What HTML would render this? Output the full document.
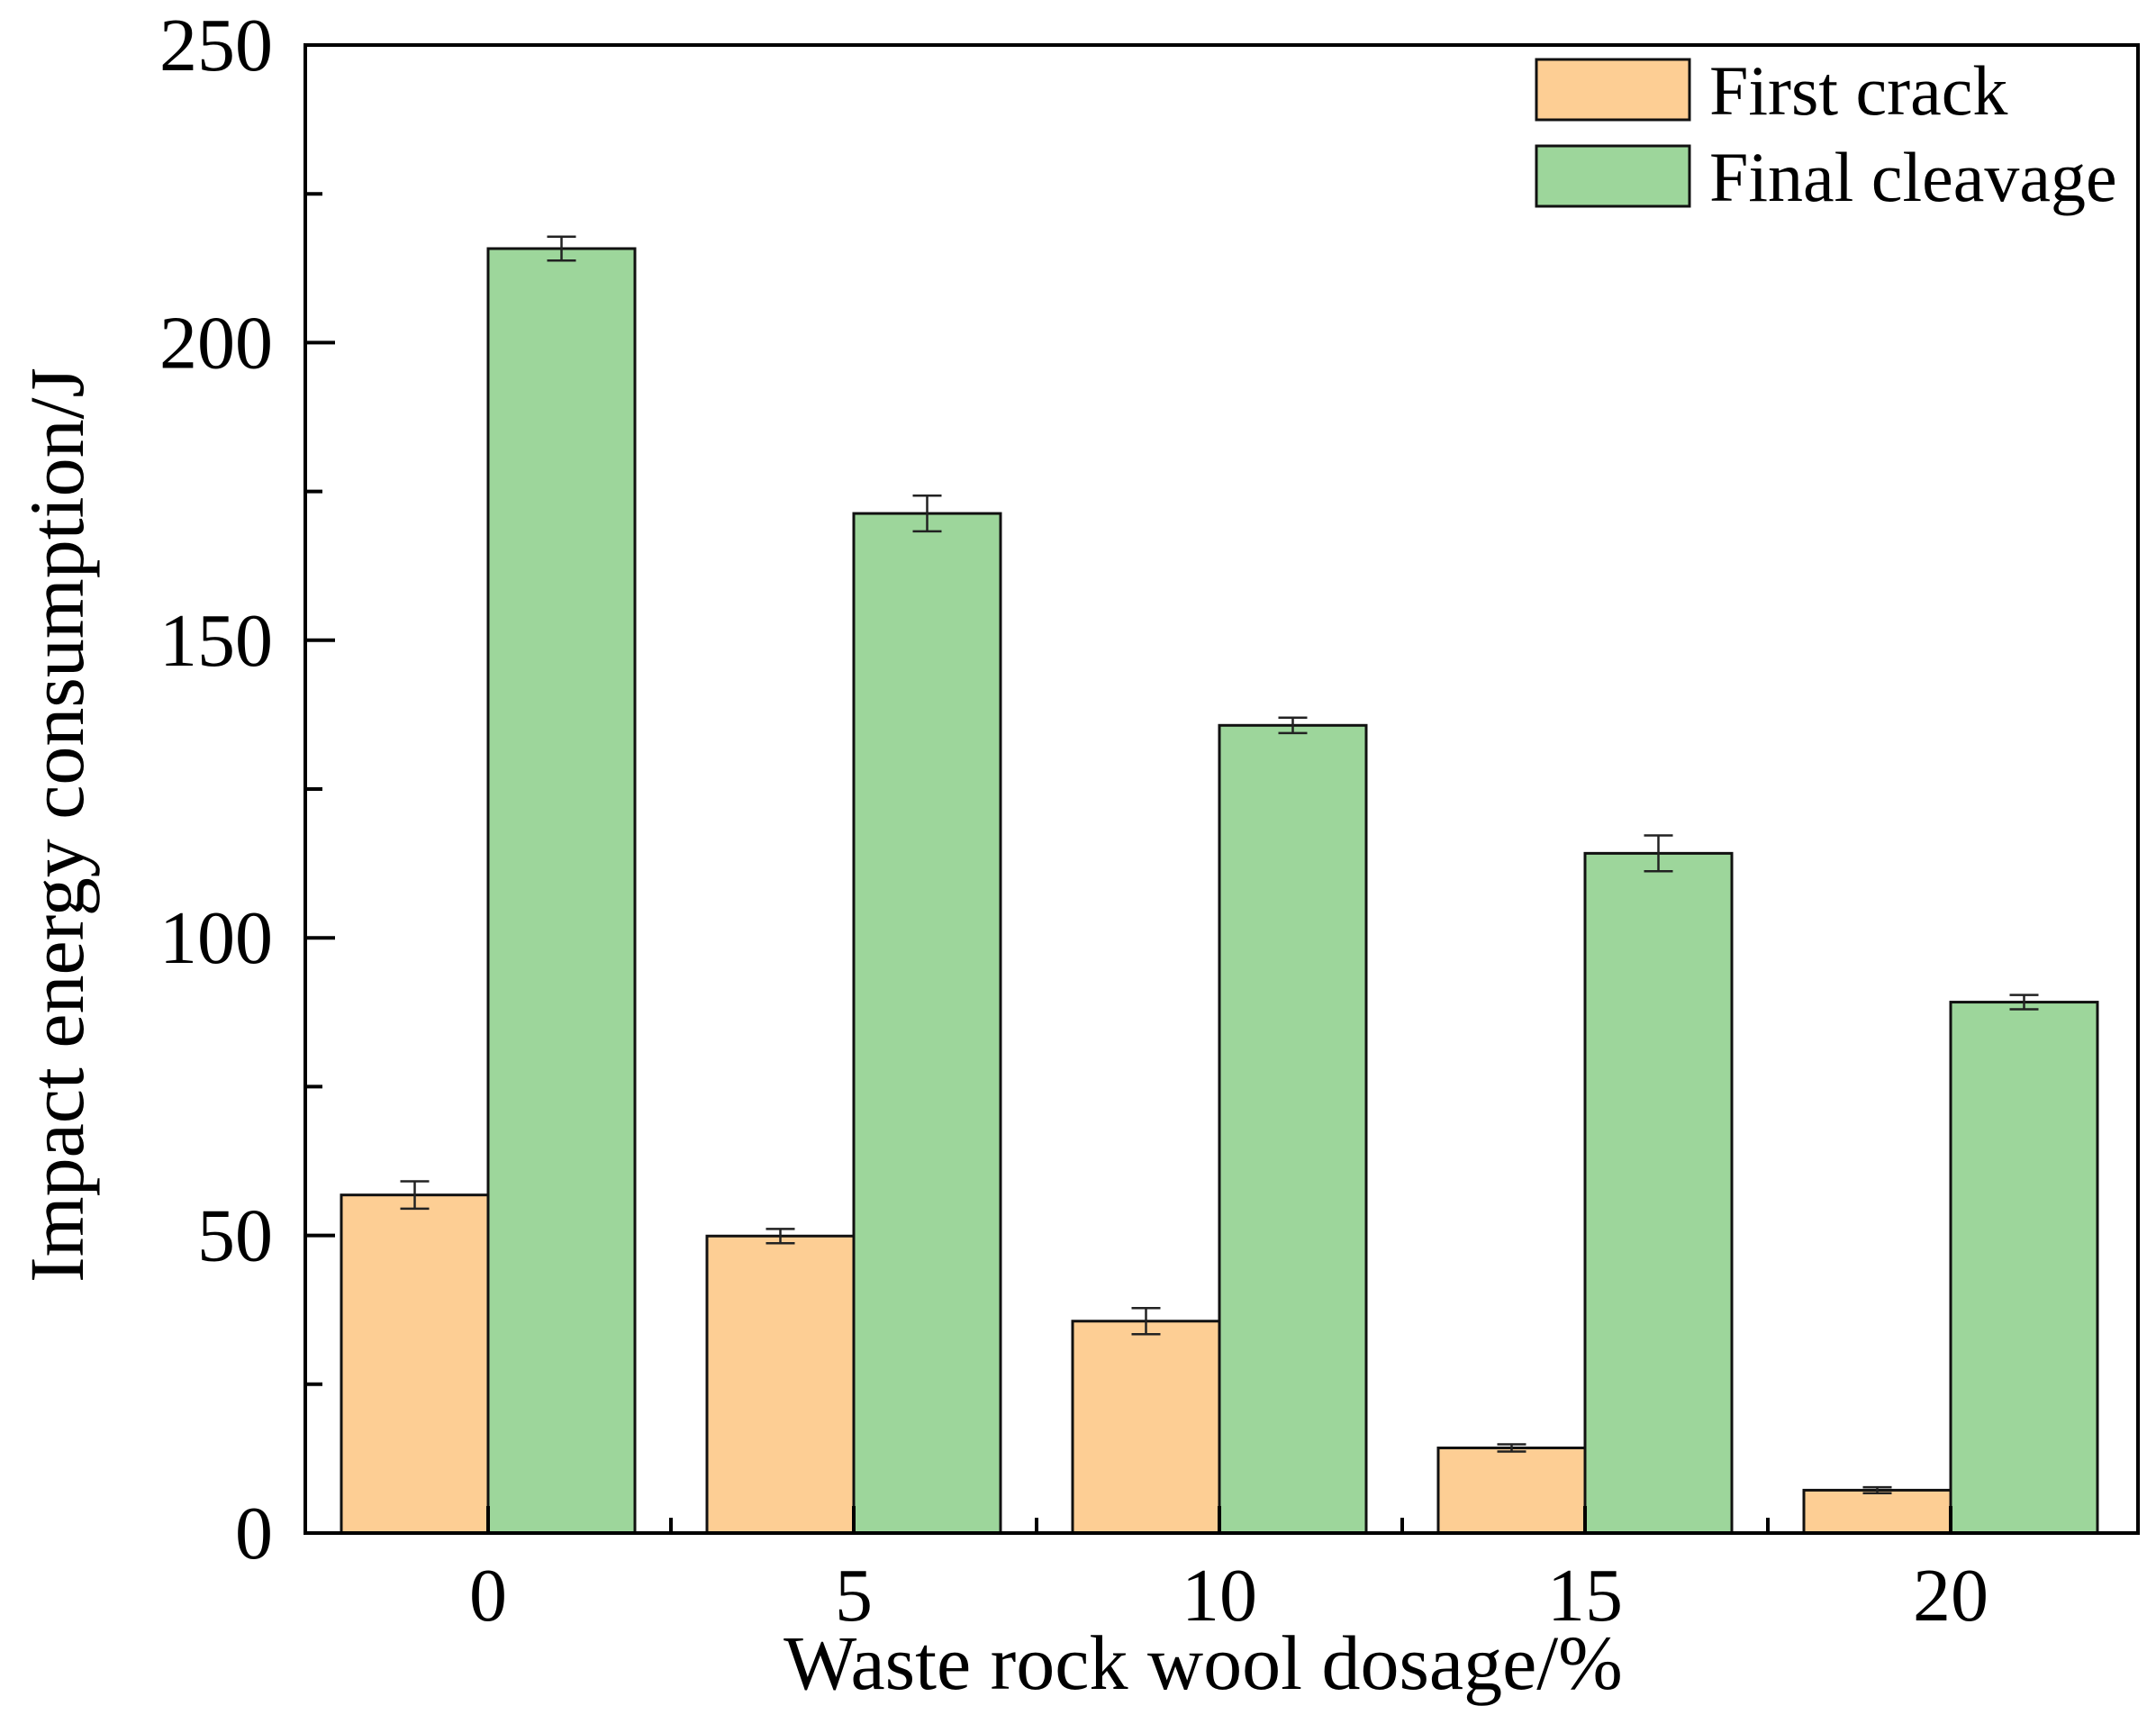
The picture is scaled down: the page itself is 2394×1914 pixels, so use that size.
<!DOCTYPE html>
<html><head><meta charset="utf-8"><style>
html,body{margin:0;padding:0;background:#fff;}
svg{display:block;font-family:"Liberation Serif",serif;}
</style></head><body>
<svg id="chart" width="2394" height="1914" viewBox="0 0 2394 1914" xmlns="http://www.w3.org/2000/svg"></svg>
<script>
const categories = ["0","5","10","15","20"];
const firstCrack = [56.8, 49.9, 35.6, 14.3, 7.2];
const firstCrackErr = [2.3, 1.2, 2.2, 0.6, 0.5];
const finalCleavage = [215.8, 171.3, 135.7, 114.2, 89.2];
const finalCleavageErr = [2.0, 3.0, 1.3, 3.0, 1.2];
const yTicks = [0, 50, 100, 150, 200, 250];
const yMinorTicks = [25, 75, 125, 175, 225];

const NS = "http://www.w3.org/2000/svg";
const svg = document.getElementById("chart");
const L = 339, R = 2374, T = 50, B = 1702;
const yMax = 250;
function y(v){ return B - v/yMax*(B-T); }
const groupStep = 406, firstCenter = 542, barW = 163;
function xc(i){ return firstCenter + i*groupStep; }
function el(tag, attrs){ const e=document.createElementNS(NS,tag); for(const k in attrs) e.setAttribute(k,attrs[k]); svg.appendChild(e); return e; }

function drawBars(vals, errs, offset, color, name){
  vals.forEach((v,i)=>{
    const x0 = xc(i) + offset;
    const r = el("rect",{x:x0,y:y(v),width:barW,height:B-y(v),fill:color,stroke:"#111","stroke-width":3});
    
    
    const cx = x0 + barW/2, e = errs[i];
    const g = el("path",{d:`M${cx} ${y(v+e)}V${y(v-e)}M${cx-16} ${y(v+e)}H${cx+16}M${cx-16} ${y(v-e)}H${cx+16}`,stroke:"#222","stroke-width":2.5,fill:"none"});
    
    
  });
}
drawBars(firstCrack, firstCrackErr, -barW, "#fdce94", "first-crack");
drawBars(finalCleavage, finalCleavageErr, 0, "#9dd69b", "final-cleavage");

const fr = el("rect",{x:L,y:T,width:R-L,height:B-T,fill:"none",stroke:"#000","stroke-width":4});



yTicks.forEach(t=>{
  const tk = el("line",{x1:L,x2:L+33,y1:y(t),y2:y(t),stroke:"#000","stroke-width":4});
  
  
  const tx = el("text",{x:303,y:y(t)+28,"text-anchor":"end","font-size":84});
  tx.textContent = t;
  
  
});
yMinorTicks.forEach(t=>{
  const tk = el("line",{x1:L,x2:L+19,y1:y(t),y2:y(t),stroke:"#000","stroke-width":4});
  
  
});
categories.forEach((c,i)=>{
  const tk = el("line",{x1:xc(i),x2:xc(i),y1:B,y2:B-30,stroke:"#000","stroke-width":4});
  
  
  const tx = el("text",{x:xc(i),y:1799,"text-anchor":"middle","font-size":84});
  tx.textContent = c;
  
  
  if(i<categories.length-1){
    const m = el("line",{x1:xc(i)+groupStep/2,x2:xc(i)+groupStep/2,y1:B,y2:B-17,stroke:"#000","stroke-width":4});
    
    
  }
});

const xt = el("text",{x:1336,y:1875,"text-anchor":"middle","font-size":86});
xt.textContent = "Waste rock wool dosage/%";


const yt = el("text",{x:0,y:0,"text-anchor":"middle","font-size":86,transform:"translate(92,916) rotate(-90)"});
yt.textContent = "Impact energy consumption/J";



const leg = [["First crack","#fdce94",66,127],["Final cleavage","#9dd69b",162,223]];
leg.forEach(([label,color,by,ty])=>{
  const r = el("rect",{x:1706,y:by,width:170,height:67,fill:color,stroke:"#111","stroke-width":3});
  
  
  const t = el("text",{x:1898,y:ty,"font-size":78});
  t.textContent = label;
  
  
});
</script>
</body></html>
